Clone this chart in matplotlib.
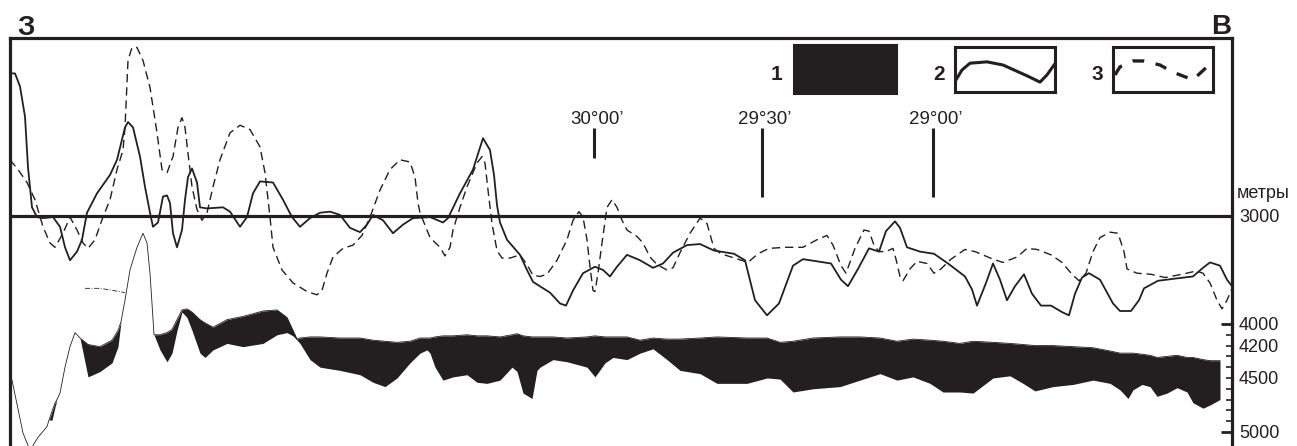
import matplotlib
matplotlib.use('Agg')
import matplotlib.pyplot as plt
from matplotlib.ticker import FuncFormatter

plt.rcParams['font.family'] = ['Liberation Sans', 'DejaVu Sans']

INK = '#231f20'
W, H, DPI = 1297, 446, 100

# ---- data: position along the profile (W -> E, plot units) and depth (m) ----
solid_x = [10, 15, 20, 25, 28, 32, 37, 43, 53, 60, 65, 70, 77, 82, 87, 97, 110, 117,
           125, 128, 133, 140, 145, 150, 153, 158, 163, 167, 170, 173, 177, 182, 185,
           188, 192, 197, 200, 207, 223, 230, 240, 247, 253, 260, 273, 283, 292, 300,
           310, 320, 330, 340, 350, 360, 367, 373, 383, 393, 403, 413, 430, 443, 448,
           460, 473, 483, 490, 494, 497, 500, 507, 520, 527, 533, 550, 560, 566, 573,
           583, 595, 603, 610, 617, 627, 640, 653, 663, 673, 687, 700, 714, 734, 745,
           755, 767, 779, 793, 803, 817, 831, 841, 848, 858, 869, 879, 886, 895, 900,
           907, 920, 934, 948, 965, 972, 977, 986, 993, 1000, 1007, 1015, 1024, 1032,
           1041, 1051, 1062, 1069, 1075, 1082, 1089, 1100, 1113, 1120, 1131, 1139,
           1144, 1158, 1175, 1193, 1203, 1210, 1220, 1227, 1232]
solid_y = [1680, 1680, 1800, 2080, 2550, 2920, 3010, 3020, 3010, 3100, 3290, 3410, 3330,
           3220, 2970, 2790, 2620, 2480, 2180, 2130, 2180, 2450, 2730, 2970, 3100, 3060,
           2820, 2810, 2880, 3160, 3290, 3130, 2850, 2640, 2560, 2690, 2920, 2930, 2920,
           2960, 3100, 3010, 2790, 2680, 2690, 2850, 3010, 3100, 3020, 2970, 2960, 2990,
           3110, 3150, 3080, 2990, 3040, 3160, 3080, 3020, 3010, 3060, 3020, 2790, 2570,
           2280, 2390, 2620, 2900, 3060, 3220, 3360, 3500, 3610, 3710, 3810, 3830, 3690,
           3530, 3470, 3500, 3560, 3470, 3360, 3410, 3480, 3440, 3340, 3270, 3260, 3320,
           3350, 3410, 3780, 3920, 3810, 3460, 3400, 3420, 3440, 3590, 3650, 3490, 3300,
           3330, 3140, 3050, 3110, 3290, 3330, 3350, 3440, 3560, 3680, 3830, 3620, 3440,
           3590, 3780, 3650, 3540, 3720, 3830, 3830, 3890, 3920, 3720, 3570, 3530, 3590,
           3810, 3880, 3880, 3780, 3670, 3600, 3580, 3560, 3480, 3430, 3460, 3590, 3650]

dashed_x = [10, 18, 27, 35, 43, 50, 55, 63, 70, 77, 83, 88, 95, 103, 110, 117, 123, 125,
            128, 132, 137, 143, 150, 157, 162, 167, 173, 178, 182, 185, 188, 192, 197,
            202, 207, 213, 220, 230, 240, 250, 260, 265, 268, 270, 273, 282, 293, 307,
            317, 322, 327, 333, 343, 353, 362, 370, 380, 390, 400, 410, 415, 418, 420,
            430, 440, 445, 450, 453, 460, 467, 477, 482, 485, 488, 492, 497, 502, 510,
            520, 527, 533, 540, 547, 557, 567, 573, 579, 583, 587, 590, 593, 595, 598,
            602, 607, 612, 617, 622, 627, 637, 643, 650, 657, 667, 673, 680, 690, 700,
            707, 714, 721, 731, 748, 758, 769, 786, 803, 817, 827, 833, 841, 846, 855,
            864, 869, 874, 879, 886, 893, 896, 900, 903, 910, 917, 927, 934, 941, 951,
            965, 975, 993, 1003, 1017, 1027, 1037, 1051, 1062, 1072, 1079, 1086, 1093,
            1100, 1110, 1118, 1124, 1127, 1137, 1151, 1165, 1182, 1196, 1203, 1210,
            1217, 1222, 1227, 1232]
dashed_y = [2480, 2570, 2690, 2850, 3100, 3250, 3290, 3160, 3010, 3130, 3250, 3300, 3220,
            3010, 2850, 2570, 2390, 2180, 1560, 1440, 1440, 1560, 1810, 2230, 2570, 2600,
            2450, 2180, 2090, 2180, 2420, 2730, 2940, 3040, 2970, 2730, 2480, 2230, 2160,
            2200, 2360, 2600, 2850, 3010, 3290, 3500, 3620, 3700, 3730, 3690, 3530, 3380,
            3300, 3270, 3180, 3010, 2760, 2570, 2480, 2500, 2640, 2880, 2970, 3200, 3290,
            3370, 3290, 3130, 2920, 2730, 2510, 2450, 2510, 2760, 3070, 3320, 3390, 3390,
            3360, 3450, 3550, 3560, 3540, 3410, 3220, 3040, 2960, 3010, 3220, 3470, 3690,
            3700, 3530, 3250, 2920, 2850, 2920, 3040, 3130, 3190, 3250, 3380, 3450, 3500,
            3480, 3340, 3160, 3020, 3070, 3300, 3350, 3380, 3430, 3350, 3300, 3290, 3290,
            3220, 3180, 3270, 3460, 3530, 3300, 3130, 3140, 3270, 3330, 3330, 3300, 3400,
            3560, 3600, 3490, 3420, 3440, 3530, 3490, 3400, 3310, 3330, 3400, 3430, 3380,
            3300, 3310, 3360, 3430, 3540, 3600, 3530, 3330, 3200, 3150, 3160, 3330, 3490,
            3530, 3540, 3570, 3540, 3510, 3530, 3620, 3780, 3860, 3780, 3670]

layer_x = [12, 23, 30, 38, 47, 49, 52, 55, 57, 60, 65, 70, 75, 80, 88, 100, 112, 118,
           121, 125, 130, 137, 143, 147, 150, 152, 154, 160, 167, 172, 177, 182, 187,
           192, 200, 205, 213, 227, 243, 263, 277, 287, 293, 297, 300, 310, 320, 340,
           360, 373, 385, 397, 410, 420, 427, 430, 435, 443, 453, 467, 477, 487, 500,
           512, 517, 523, 532, 537, 540, 553, 567, 587, 595, 605, 613, 627, 640, 653,
           667, 680, 700, 717, 747, 767, 780, 793, 813, 840, 860, 880, 897, 913, 930,
           943, 960, 973, 993, 1010, 1023, 1035, 1053, 1073, 1093, 1110, 1120, 1128,
           1133, 1142, 1150, 1157, 1167, 1177, 1187, 1193, 1203, 1210, 1220]
layer_top = [4520, 5010, 5170, 5050, 4950, 4890, 4810, 4730, 4700, 4640, 4400, 4210, 4080,
             4130, 4190, 4210, 4150, 4060, 3980, 3780, 3500, 3290, 3160, 3250, 3530, 3810,
             4100, 4100, 4080, 4050, 3960, 3870, 3860, 3890, 3960, 3990, 4030, 3960, 3930,
             3880, 3870, 3940, 4060, 4140, 4130, 4120, 4120, 4130, 4130, 4150, 4160, 4170,
             4160, 4130, 4130, 4130, 4120, 4110, 4110, 4100, 4110, 4110, 4120, 4100, 4090,
             4110, 4120, 4120, 4120, 4120, 4130, 4120, 4110, 4120, 4120, 4120, 4150, 4130,
             4140, 4140, 4130, 4120, 4130, 4130, 4170, 4160, 4130, 4120, 4120, 4130, 4160,
             4140, 4150, 4160, 4180, 4160, 4170, 4180, 4190, 4200, 4200, 4210, 4220, 4250,
             4270, 4270, 4270, 4280, 4290, 4310, 4300, 4290, 4310, 4310, 4330, 4340, 4340]
layer_bot = [4520, 5010, 5170, 5050, 4950, 4890, 4890, 4770, 4700, 4640, 4400, 4210, 4080,
             4130, 4490, 4440, 4360, 4210, 3980, 3780, 3500, 3290, 3160, 3250, 3530, 3810,
             4100, 4240, 4350, 4270, 4060, 3890, 3940, 4060, 4270, 4310, 4240, 4180, 4210,
             4180, 4100, 4080, 4110, 4150, 4180, 4330, 4400, 4430, 4470, 4540, 4580, 4500,
             4360, 4270, 4240, 4270, 4400, 4520, 4490, 4470, 4540, 4550, 4520, 4400, 4440,
             4640, 4690, 4430, 4400, 4330, 4350, 4400, 4490, 4360, 4310, 4330, 4270, 4230,
             4330, 4430, 4460, 4550, 4550, 4500, 4510, 4630, 4600, 4580, 4520, 4460, 4520,
             4490, 4550, 4630, 4630, 4640, 4500, 4480, 4550, 4620, 4580, 4560, 4520, 4550,
             4610, 4690, 4610, 4560, 4580, 4670, 4640, 4590, 4630, 4730, 4780, 4750, 4700]

aux_x = [85, 100, 113, 125]
aux_y = [3670, 3670, 3690, 3710]

lon_labels = ["30°00’", "29°30’", "29°00’"]
lon_x = [594, 762, 933]
lon_top = [2190, 2190, 2190]
lon_bot = [2460, 2820, 2820]

depth_major = [3000, 4000, 5000]
depth_minor = [4100, 4200, 4300, 4400, 4500, 4600, 4700, 4800, 4900]
depth_minor_labeled = [4200, 4500]

legend_labels = ['1', '2', '3']
leg2_x = [0.01, 0.07, 0.15, 0.32, 0.48, 0.72, 0.85, 0.92, 0.99]
leg2_y = [0.27, 0.49, 0.64, 0.67, 0.60, 0.36, 0.22, 0.38, 0.60]
leg3_x = [0.02, 0.07, 0.20, 0.30, 0.47, 0.60, 0.80, 0.94, 0.98]
leg3_y = [0.38, 0.56, 0.69, 0.69, 0.60, 0.44, 0.27, 0.56, 0.67]


def fx(x):
    return x / W


def fy(y):
    return 1 - y / H


fig = plt.figure(figsize=(W / DPI, H / DPI), dpi=DPI)
ax = fig.add_axes([fx(10), 0, (1232 - 10) / W, (446 - 38) / H])
ax.set_xlim(10, 1232)
ax.set_ylim(5130, 1352)

ax.fill_between(layer_x, layer_top, layer_bot, color=INK, lw=0)
ax.plot(layer_x, layer_top, color=INK, lw=0.6)
ax.plot(aux_x, aux_y, color=INK, lw=0.6, ls=(0, (6, 2, 1, 2)))
ax.plot(solid_x, solid_y, color=INK, lw=1.3)
ax.plot(dashed_x, dashed_y, color=INK, lw=1.0, ls=(0, (6, 3.5)))
ax.axhline(3000, color=INK, lw=2.3)

for lab, x, t, b in zip(lon_labels, lon_x, lon_top, lon_bot):
    ax.plot([x, x], [t, b], color=INK, lw=2.2, solid_capstyle='butt')
    ax.text(x + 3, t - 40, lab, ha='center', va='baseline', fontsize=13.5, color=INK)

for s in ['left', 'top', 'right']:
    ax.spines[s].set_linewidth(2.3)
    ax.spines[s].set_color(INK)
ax.spines['bottom'].set_visible(False)
ax.set_xticks([])
ax.yaxis.tick_right()
ax.set_yticks(depth_major)
ax.set_yticks(depth_minor, minor=True)
ax.yaxis.set_minor_formatter(FuncFormatter(
    lambda v, p: f'{int(round(v))}' if int(round(v)) in depth_minor_labeled else ''))
ax.tick_params(axis='y', which='major', direction='in', length=8, width=2,
               labelsize=13, pad=5, colors=INK)
ax.tick_params(axis='y', which='minor', direction='in', length=4, width=1.2,
               labelsize=13, pad=5, colors=INK)

fig.text(fx(1237), fy(193), 'метры', ha='left', va='center', fontsize=13, color=INK)
fig.text(fx(17), fy(35), 'З', ha='left', va='baseline', fontsize=20,
         fontweight='bold', color=INK)
fig.text(fx(1231), fy(34), 'В', ha='right', va='baseline', fontsize=20,
         fontweight='bold', color=INK)

# legend
leg1 = fig.add_axes([fx(794), fy(93), 102 / W, 48 / H])
leg1.set_facecolor(INK)
leg2 = fig.add_axes([fx(955), fy(92), 100 / W, 45 / H])
leg2.plot(leg2_x, leg2_y, color=INK, lw=2.2)
leg3 = fig.add_axes([fx(1113), fy(92), 100 / W, 45 / H])
leg3.plot(leg3_x, leg3_y, color=INK, lw=2.4, ls=(0, (3.5, 3.5)))
for lg in (leg1, leg2, leg3):
    lg.set_xlim(0, 1)
    lg.set_ylim(0, 1)
    lg.set_xticks([])
    lg.set_yticks([])
    for s in lg.spines.values():
        s.set_linewidth(2.2)
        s.set_color(INK)
for lab, x in zip(legend_labels, [777, 939, 1097]):
    fig.text(fx(x), fy(75), lab, ha='center', va='center', fontsize=15,
             fontweight='bold', color=INK)

fig.savefig('out.png', dpi=DPI)
